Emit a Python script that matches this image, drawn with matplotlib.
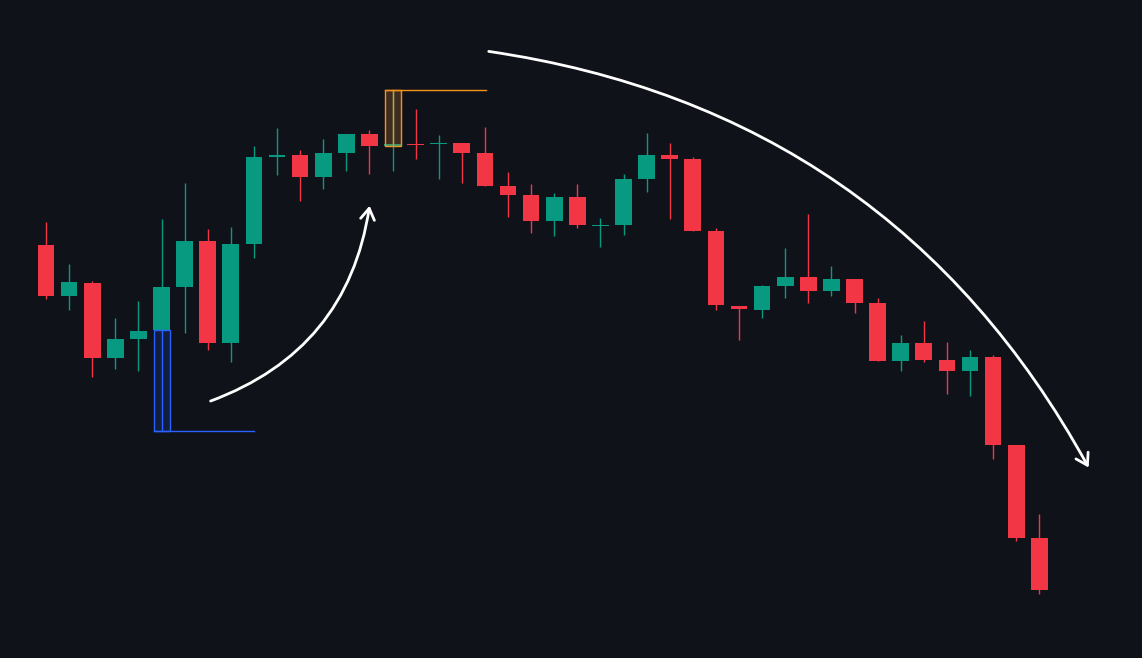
import matplotlib
matplotlib.use("Agg")
import matplotlib.pyplot as plt
from matplotlib.patches import Rectangle

# OHLC-ish values (price units)
body_top = [245,282,283,339,331,287,241,241,244,157,155,155,153,134,134,144,144,143,143,153,186,195,197,197,225,179,155,155,159,231,306,286,277,277,279,279,303,343,343,360,357,357,445,538]
body_bot = [296,296,358,358,339,330,287,343,343,244,157,177,177,153,146,146,145,144,153,186,195,221,221,225,226,225,179,159,231,305,309,310,286,291,291,303,361,361,360,371,371,445,538,590]
wick_top = [222,264,281,318,301,219,183,229,227,146,128,150,139,134,130,90,109,135,143,127,172,184,193,184,218,174,133,143,157,228,306,285,248,214,266,279,298,335,321,342,350,355,445,514]
wick_bot = [299,310,377,369,371,330,333,350,362,258,175,201,189,171,174,171,159,179,183,186,217,233,236,228,247,235,192,219,231,310,340,318,298,303,296,313,361,371,362,394,396,459,541,594]
bull = [0,1,0,1,1,1,1,0,1,1,1,0,1,1,0,1,0,1,0,0,0,0,1,0,1,1,1,0,0,0,0,1,1,0,1,0,0,1,0,0,1,0,0,0]

H = 658
def P(y): return H - y
def X(px): return (px - 46) / 23.1

BG = "#10121a"; GREEN = "#089981"; RED = "#f23645"
fig = plt.figure(figsize=(11.42, 6.58), dpi=100, facecolor=BG)
ax = fig.add_axes([0, 0, 1, 1], facecolor=BG)
ax.set_xlim(X(0), X(1142)); ax.set_ylim(0, H); ax.axis("off")

for i in range(len(bull)):
    c = GREEN if bull[i] else RED
    ax.vlines(i, P(wick_bot[i]), P(wick_top[i]), color=c, lw=1)
    h = max(P(body_top[i]) - P(body_bot[i]), 1.5)
    ax.add_patch(Rectangle((i - 0.36, P(body_bot[i])), 0.72, h, color=c, lw=0))

# blue box
ax.add_patch(Rectangle((X(154), P(431)), X(170)-X(154), P(330)-P(431), fill=True, fc=(0.16,0.38,1,0.15), ec="#2962ff", lw=1))
ax.plot([X(162), X(162)], [P(330), P(431)], color="#2962ff", lw=1)
ax.plot([X(154), X(254)], [P(431), P(431)], color="#2962ff", lw=1)
# orange box
ax.add_patch(Rectangle((X(385), P(146)), X(401)-X(385), P(90)-P(146), fc=(1,0.6,0.2,0.2), ec="#f7931a", lw=1))
ax.plot([X(393), X(393)], [P(90), P(146)], color="#f7931a", lw=1)
ax.plot([X(385), X(486)], [P(90), P(90)], color="#f7931a", lw=1)

ax.annotate("", xy=(X(370), P(203)), xytext=(X(208), P(402)),
            arrowprops=dict(arrowstyle="->,head_length=0.8,head_width=0.5", color="white", lw=2, connectionstyle="arc3,rad=0.3"))
ax.annotate("", xy=(X(1090), P(470)), xytext=(X(486), P(51)),
            arrowprops=dict(arrowstyle="->,head_length=0.8,head_width=0.5", color="white", lw=2, connectionstyle="arc3,rad=-0.25"))

fig.savefig("out.png", dpi=100, facecolor=BG)
